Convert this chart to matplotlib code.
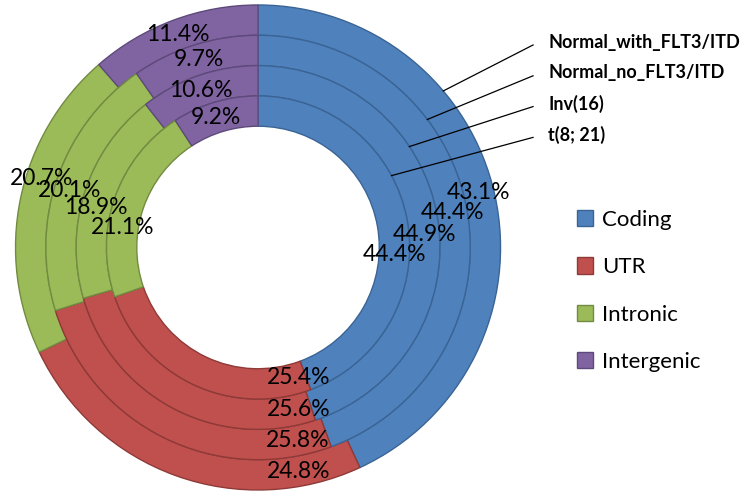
import numpy as np
import matplotlib
matplotlib.use("Agg")
import matplotlib.pyplot as plt

plt.rcParams['font.family'] = ['Lato', 'DejaVu Sans']

categories = ["Coding", "UTR", "Intronic", "Intergenic"]
series = ["Normal_with_FLT3/ITD", "Normal_no_FLT3/ITD", "Inv(16)", "t(8; 21)"]
# outer ring first
normal_with = [43.1, 24.8, 20.7, 11.4]
normal_no = [44.4, 25.8, 20.1, 9.7]
inv16 = [44.9, 25.6, 18.9, 10.6]
t821 = [44.4, 25.4, 21.1, 9.2]
rings = [normal_with, normal_no, inv16, t821]

colors = ["#4F81BD", "#C0504D", "#9BBB59", "#8064A2"]
edges = ["#3A6494", "#8E3A38", "#728B41", "#5E4A7A"]

# label angle nudges (degrees), like the moved labels in the original
nudge = [[1.6, 30, -6, 0],
         [0, 38, 2, 0],
         [-4.6, 42, 4, 1],
         [-13, 42.5, 10.6, 1.4]]

fig = plt.figure(figsize=(7.5, 4.97), dpi=100)
ax = fig.add_axes([0.0207, 0.0141, 0.6467, 0.9759])

w = 0.125
handles = None
for i, vals in enumerate(rings):
    r = 1 - i * w
    wedges, _ = ax.pie(vals, radius=r, colors=colors, startangle=90,
                       counterclock=False, wedgeprops=dict(width=w, linewidth=1.0))
    for k, wd in enumerate(wedges):
        wd.set_edgecolor(edges[k])
    if handles is None:
        handles = wedges
    # percent labels
    for k, wd in enumerate(wedges):
        mid = (wd.theta1 + wd.theta2) / 2 + nudge[i][k]
        rr = r - w / 2
        ax.text(rr * np.cos(np.radians(mid)), rr * np.sin(np.radians(mid)),
                "%.1f%%" % vals[k], ha='center', va='center', fontsize=16.5, color='black')

ax.set_xlim(-1, 1)
ax.set_ylim(-1, 1)
ax.set_aspect('equal')
ax.axis('off')

# series name callouts
ang = [40.2, 37.1, 33.7, 28.3]
for i, name in enumerate(series):
    r = 1 - i * w
    x0, y0 = r * np.cos(np.radians(ang[i])), r * np.sin(np.radians(ang[i]))
    ty = 0.847 - i * 0.127
    ax.plot([x0, 1.134], [y0, ty - 0.012], color='black', lw=0.9, clip_on=False)
    ax.text(1.196, ty, name, ha='left', va='center', fontsize=13,
            fontweight='bold', color='black', clip_on=False)

leg = fig.legend(handles, categories, loc='upper left', bbox_to_anchor=(0.742, 0.618),
                 frameon=False, fontsize=16, handlelength=0.75, handleheight=0.75,
                 handletextpad=0.4, labelspacing=1.23)

fig.savefig("out.png", dpi=100)
